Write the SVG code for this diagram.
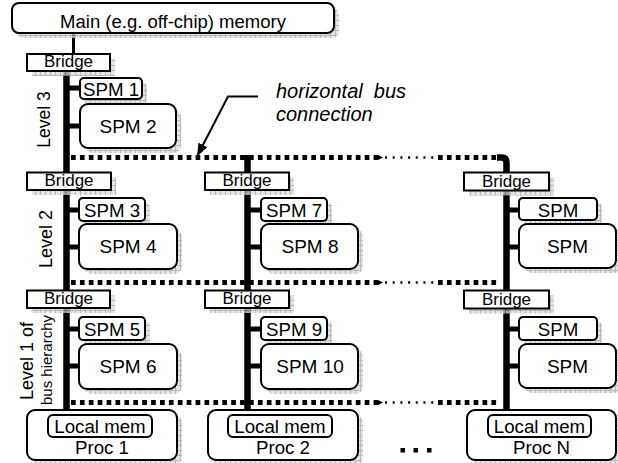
<svg xmlns="http://www.w3.org/2000/svg" width="618" height="463" viewBox="0 0 618 463">
<style>
.box{fill:#fff;stroke:#000;stroke-width:2}
.sh{fill:url(#hatch);opacity:.75}
.t{font-family:"Liberation Sans",Arial,Helvetica,sans-serif;font-size:18.7px;text-anchor:middle;fill:#000}
.ts{font-size:19px}
.tb{font-size:17px}
.ti{font-size:20px;font-style:italic;text-anchor:start}
.bus{stroke:#000;stroke-width:6.5;fill:none}
.thin{stroke:#000;stroke-width:3;fill:none}
.stub{stroke:#000;stroke-width:5}
.dash{stroke:#000;stroke-width:5;stroke-dasharray:4.7 4.2;fill:none}
.dot{stroke:#000;stroke-width:2.5;stroke-dasharray:2 5.7;fill:none}
.arr{stroke:#000;stroke-width:2;fill:none}
</style>
<defs>
<pattern id="hatch" width="5" height="5" patternUnits="userSpaceOnUse">
<rect width="5" height="5" fill="#dcdcdc"/>
<path d="M0 0.5H5M0.5 0V5" stroke="#a0a0a0" stroke-width="1"/>
</pattern>
<marker id="ah" viewBox="0 0 13 10" refX="13" refY="5" markerWidth="13" markerHeight="10" markerUnits="userSpaceOnUse" orient="auto">
<path d="M0 0L13 5L0 10z" fill="#000"/>
</marker>
<g id="hb">
<line class="dash" x1="71" y1="0" x2="378" y2="0"/>
<path d="M378 -2.5L383 0L378 2.5z" fill="#000"/>
<line class="dot" x1="385" y1="0" x2="434" y2="0"/>
<line class="dash" x1="438" y1="0" x2="500" y2="0"/>
</g>
</defs>
<rect width="618" height="463" fill="#fff"/>

<g id="connectors">
<line class="thin" x1="73.5" y1="33" x2="73.5" y2="54"/>
<use href="#hb" transform="translate(0,157.5)"/>
<use href="#hb" transform="translate(0,282.5)"/>
<use href="#hb" transform="translate(0,402.5)"/>
<line class="bus" x1="66.5" y1="71" x2="66.5" y2="411"/>
<line class="bus" x1="247.5" y1="155" x2="247.5" y2="411"/>
<path class="bus" d="M497 157.5H501.5Q506.5 157.5 506.5 162.5V411"/>
<g class="stub">
<line x1="66" y1="88" x2="80" y2="88"/><line x1="66" y1="126" x2="80" y2="126"/>
<line x1="66" y1="210" x2="79" y2="210"/><line x1="66" y1="247" x2="79" y2="247"/>
<line x1="66" y1="329" x2="79" y2="329"/><line x1="66" y1="366" x2="79" y2="366"/>
<line x1="247" y1="210" x2="261" y2="210"/><line x1="247" y1="247" x2="261" y2="247"/>
<line x1="247" y1="329" x2="261" y2="329"/><line x1="247" y1="366" x2="261" y2="366"/>
<line x1="506" y1="210" x2="519" y2="210"/><line x1="506" y1="247" x2="519" y2="247"/>
<line x1="506" y1="329" x2="519" y2="329"/><line x1="506" y1="366" x2="519" y2="366"/>
</g>
<polyline class="arr" points="258,96.5 228,96.5 197,156.5" marker-end="url(#ah)"/>
</g>

<g id="main">
<rect class="sh" x="17" y="8" width="322" height="30" rx="7"/>
<rect class="box" x="12" y="3" width="322" height="30" rx="7"/>
<text class="t" x="173" y="28" style="font-size:18.5px">Main (e.g. off-chip) memory</text>
</g>

<g id="bridge-l3">
<rect class="sh" x="32" y="59" width="83" height="17"/>
<rect class="box" x="27" y="54" width="83" height="17"/>
<text class="t tb" x="68.5" y="67">Bridge</text>
</g>
<g id="spm1">
<rect class="sh" x="85" y="83" width="62" height="21" rx="4"/>
<rect class="box" x="80" y="78" width="62" height="21" rx="4"/>
<text class="t" x="111" y="95.5">SPM 1</text>
</g>
<g id="spm2">
<rect class="sh" x="85" y="109" width="96" height="44" rx="8"/>
<rect class="box" x="80" y="104" width="96" height="44" rx="8"/>
<text class="t ts" x="128" y="133">SPM 2</text>
</g>

<g id="bridge-l2-1">
<rect class="sh" x="32" y="177.5" width="84" height="17.5"/>
<rect class="box" x="27" y="172.5" width="84" height="17.5"/>
<text class="t tb" x="69" y="186">Bridge</text>
</g>
<g id="spm3">
<rect class="sh" x="84" y="203" width="66" height="23" rx="4"/>
<rect class="box" x="79" y="198" width="66" height="23" rx="4"/>
<text class="t" x="112" y="217">SPM 3</text>
</g>
<g id="spm4">
<rect class="sh" x="84" y="229" width="98" height="45" rx="8"/>
<rect class="box" x="79" y="224" width="98" height="45" rx="8"/>
<text class="t ts" x="128" y="253">SPM 4</text>
</g>

<g id="bridge-l1-1">
<rect class="sh" x="32" y="295.5" width="83" height="17.5"/>
<rect class="box" x="27" y="290.5" width="83" height="17.5"/>
<text class="t tb" x="68.5" y="304">Bridge</text>
</g>
<g id="spm5">
<rect class="sh" x="84" y="322" width="66" height="23" rx="4"/>
<rect class="box" x="79" y="317" width="66" height="23" rx="4"/>
<text class="t" x="112" y="336">SPM 5</text>
</g>
<g id="spm6">
<rect class="sh" x="84" y="349" width="98" height="45" rx="8"/>
<rect class="box" x="79" y="344" width="98" height="45" rx="8"/>
<text class="t ts" x="128" y="373">SPM 6</text>
</g>

<g id="bridge-l2-2">
<rect class="sh" x="210" y="177.5" width="84" height="17.5"/>
<rect class="box" x="205" y="172.5" width="84" height="17.5"/>
<text class="t tb" x="247" y="186">Bridge</text>
</g>
<g id="spm7">
<rect class="sh" x="266" y="203" width="66" height="23" rx="4"/>
<rect class="box" x="261" y="198" width="66" height="23" rx="4"/>
<text class="t" x="294" y="217">SPM 7</text>
</g>
<g id="spm8">
<rect class="sh" x="266" y="229" width="97" height="45" rx="8"/>
<rect class="box" x="261" y="224" width="97" height="45" rx="8"/>
<text class="t ts" x="310" y="253">SPM 8</text>
</g>
<g id="bridge-l1-2">
<rect class="sh" x="210" y="295.5" width="84" height="17.5"/>
<rect class="box" x="205" y="290.5" width="84" height="17.5"/>
<text class="t tb" x="247" y="304">Bridge</text>
</g>
<g id="spm9">
<rect class="sh" x="266" y="322" width="66" height="23" rx="4"/>
<rect class="box" x="261" y="317" width="66" height="23" rx="4"/>
<text class="t" x="294" y="336">SPM 9</text>
</g>
<g id="spm10">
<rect class="sh" x="266" y="349" width="97" height="45" rx="8"/>
<rect class="box" x="261" y="344" width="97" height="45" rx="8"/>
<text class="t ts" x="310" y="373">SPM 10</text>
</g>

<g id="bridge-l2-n">
<rect class="sh" x="469" y="177.5" width="85" height="18"/>
<rect class="box" x="464" y="172.5" width="85" height="18"/>
<text class="t tb" x="506.5" y="186.5">Bridge</text>
</g>
<g id="spm-l2-a">
<rect class="sh" x="524" y="203" width="78" height="22" rx="4"/>
<rect class="box" x="519" y="198" width="78" height="22" rx="4"/>
<text class="t" x="558" y="216.5">SPM</text>
</g>
<g id="spm-l2-b">
<rect class="sh" x="524" y="229" width="98" height="44" rx="8"/>
<rect class="box" x="519" y="224" width="97" height="44" rx="8"/>
<text class="t ts" x="567.5" y="252.5">SPM</text>
</g>
<g id="bridge-l1-n">
<rect class="sh" x="469" y="295.5" width="85" height="18"/>
<rect class="box" x="464" y="290.5" width="85" height="18"/>
<text class="t tb" x="506.5" y="304.5">Bridge</text>
</g>
<g id="spm-l1-a">
<rect class="sh" x="524" y="322" width="78" height="23" rx="4"/>
<rect class="box" x="519" y="317" width="78" height="23" rx="4"/>
<text class="t" x="558" y="336">SPM</text>
</g>
<g id="spm-l1-b">
<rect class="sh" x="524" y="349" width="98" height="44" rx="8"/>
<rect class="box" x="519" y="344" width="97" height="44" rx="8"/>
<text class="t ts" x="567.5" y="372.5">SPM</text>
</g>

<g id="proc1">
<rect class="sh" x="32" y="415" width="150" height="50" rx="8"/>
<rect class="box" x="27" y="410" width="150" height="50" rx="8"/>
<rect class="box" x="48" y="415" width="104" height="22" rx="5"/>
<text class="t" x="100" y="433">Local mem</text>
<text class="t" x="102" y="454">Proc 1</text>
</g>
<g id="proc2">
<rect class="sh" x="213" y="415" width="150" height="50" rx="8"/>
<rect class="box" x="208" y="410" width="150" height="50" rx="8"/>
<rect class="box" x="228" y="415" width="104" height="22" rx="5"/>
<text class="t" x="280" y="433">Local mem</text>
<text class="t" x="283" y="454">Proc 2</text>
</g>
<g id="procN">
<rect class="sh" x="472" y="415" width="149" height="50" rx="8"/>
<rect class="box" x="467" y="410" width="149" height="50" rx="8"/>
<rect class="box" x="488" y="415" width="103" height="22" rx="5"/>
<text class="t" x="539.5" y="433">Local mem</text>
<text class="t" x="541.5" y="454">Proc N</text>
</g>

<g id="ellipsis" fill="#000">
<rect x="400.5" y="448" width="4.5" height="4.5"/>
<rect x="413.5" y="448" width="4.5" height="4.5"/>
<rect x="427" y="448" width="4.5" height="4.5"/>
</g>

<g id="labels">
<text class="t" style="font-size:17.5px" transform="translate(50,119.5) rotate(-90)">Level 3</text>
<text class="t" style="font-size:18px" transform="translate(51.5,239) rotate(-90)">Level 2</text>
<text class="t" style="font-size:18px" transform="translate(33,361) rotate(-90)">Level 1 of</text>
<text class="t" style="font-size:15px" transform="translate(51.5,360) rotate(-90)">bus hierarchy</text>
<text class="t ti" x="276" y="98" xml:space="preserve">horizontal  bus</text>
<text class="t ti" x="276" y="121">connection</text>
</g>
</svg>
